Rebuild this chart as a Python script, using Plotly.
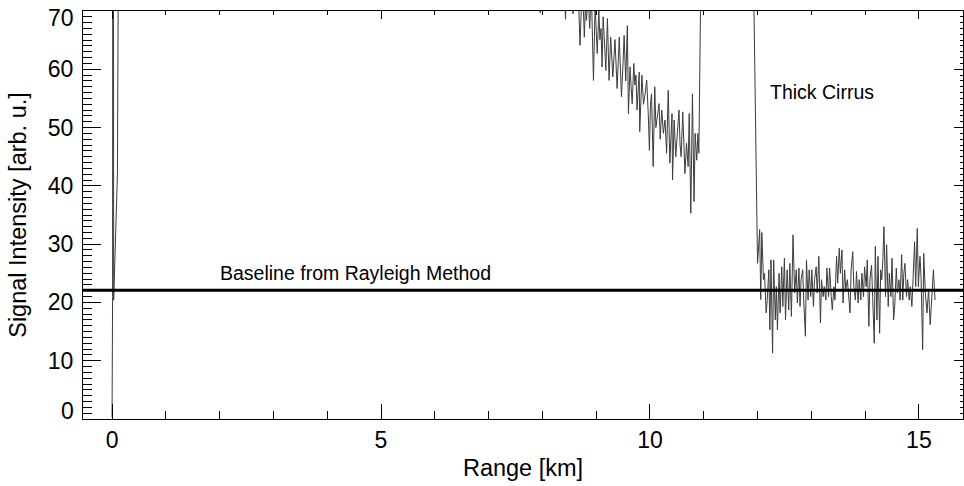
import plotly.graph_objects as go

# ---- data ----
near_range = [0.0, 0.005, 0.01, 0.018, 0.03, 0.10, 0.14]
near_signal = [0.3, 14.0, 21.0, 250.0, 20.4, 42.0, 300.0]

# strong near-field return, far above the plotted range
mid_range = [0.5, 2.0, 4.0, 6.0, 7.5]
mid_signal = [900.0, 400.0, 200.0, 130.0, 95.0]

aerosol_range = [7.94, 7.96, 7.98, 8.20, 8.40, 8.43, 8.46, 8.54, 8.57, 8.60, 8.67, 8.70, 8.73, 8.76,
                 8.78, 8.80, 8.82, 8.85, 8.88, 8.91, 8.95, 8.98, 9.02, 9.05, 9.07, 9.09, 9.11, 9.13,
                 9.16, 9.18, 9.21, 9.24, 9.27, 9.29, 9.31, 9.35, 9.37, 9.39, 9.43, 9.45, 9.47, 9.50,
                 9.52, 9.55, 9.58, 9.60, 9.63, 9.65, 9.67, 9.70, 9.72, 9.74, 9.76, 9.80, 9.81, 9.85,
                 9.88, 9.91, 9.94, 9.97, 9.99, 10.01, 10.03, 10.06, 10.09, 10.11, 10.14, 10.17, 10.19,
                 10.22, 10.25, 10.28, 10.31, 10.34, 10.37, 10.39, 10.41, 10.42, 10.45, 10.48, 10.51,
                 10.54, 10.56, 10.58, 10.61, 10.63, 10.65, 10.68, 10.71, 10.73, 10.76, 10.79, 10.82,
                 10.84, 10.87, 10.89, 10.91]
aerosol_signal = [85.0, 69.7, 84.0, 80.0, 78.0, 68.6, 77.0, 76.0, 69.5, 76.0, 73.0, 64.1, 72.0, 71.0,
                  65.5, 71.0, 68.4, 73.0, 67.0, 74.0, 58.1, 71.0, 62.7, 70.0, 65.1, 67.0, 60.4, 69.0,
                  64.0, 59.8, 68.7, 58.1, 65.5, 61.0, 58.7, 65.1, 60.0, 56.7, 65.5, 60.0, 55.3, 61.0,
                  65.8, 58.0, 67.5, 52.4, 60.4, 57.0, 54.1, 61.0, 57.3, 59.0, 53.0, 59.5, 49.3, 59.0,
                  54.0, 55.8, 58.1, 52.0, 46.1, 54.0, 55.8, 43.3, 57.0, 50.0, 52.4, 54.1, 48.0,
                  53.0, 49.0, 51.3, 45.6, 56.4, 43.9, 50.0, 52.4, 41.0, 51.3, 45.0, 50.1,
                  53.0, 47.0, 45.0, 52.7, 47.0, 42.1, 47.3, 43.3, 52.4, 35.3, 55.8, 37.3,
                  49.0, 44.4, 49.0, 45.6]

# thick cirrus return (off scale)
cirrus_range = [10.945, 11.0, 11.5, 11.92]
cirrus_signal = [75.0, 400.0, 600.0, 80.0]

below_range = [12.00, 12.02, 12.04, 12.06, 12.08, 12.11, 12.13, 12.16, 12.18, 12.21, 12.23, 12.25,
               12.28, 12.30, 12.33, 12.35, 12.37, 12.40, 12.42, 12.45, 12.47, 12.50, 12.52, 12.55,
               12.58, 12.60, 12.63, 12.66, 12.69, 12.72, 12.74, 12.77, 12.79, 12.81, 12.84, 12.86,
               12.89, 12.91, 12.94, 12.96, 12.99, 13.01, 13.04, 13.06, 13.09, 13.11, 13.14, 13.17,
               13.19, 13.22, 13.24, 13.27, 13.29, 13.32, 13.34, 13.37, 13.39, 13.42, 13.44, 13.47,
               13.49, 13.52, 13.54, 13.57, 13.59, 13.62, 13.64, 13.67, 13.69, 13.72, 13.74, 13.77,
               13.79, 13.82, 13.84, 13.87, 13.89, 13.92, 13.94, 13.97, 13.99, 14.02, 14.04, 14.07,
               14.09, 14.12, 14.14, 14.17, 14.19, 14.22, 14.24, 14.27, 14.29, 14.31, 14.33, 14.35,
               14.38, 14.40, 14.43, 14.45, 14.48, 14.50, 14.53, 14.55, 14.58, 14.60, 14.63, 14.65,
               14.68, 14.70, 14.72, 14.74, 14.77, 14.79, 14.82, 14.84, 14.87, 14.89, 14.92, 14.94,
               14.97, 14.99, 15.02, 15.04, 15.07, 15.09, 15.12, 15.15, 15.18, 15.21, 15.24, 15.27,
               15.30]
below_signal = [26.7, 29.5, 32.5, 20.5, 32.0, 23.9, 25.0, 18.2, 20.3, 25.6, 15.3, 27.3,
                11.3, 27.3, 17.0, 22.7, 15.3, 25.0, 18.2, 26.1, 19.3, 27.6, 17.0, 25.6,
                18.7, 26.7, 17.6, 31.6, 21.6, 25.6, 19.9, 25.9, 19.3, 23.9, 25.6, 20.2,
                14.2, 27.3, 20.4, 25.6, 21.0, 25.6, 19.3, 23.9, 26.1, 21.6, 27.9, 16.5,
                23.9, 21.0, 22.7, 20.4, 25.9, 21.0, 25.9, 21.0, 18.7, 22.7, 20.4, 27.9,
                23.3, 29.3, 25.0, 29.0, 19.9, 25.6, 22.2, 23.9, 21.6, 18.2, 25.6, 28.7,
                22.7, 20.4, 25.3, 19.9, 23.9, 20.4, 25.0, 21.0, 26.1, 22.7, 27.3, 15.9,
                23.9, 26.4, 21.0, 13.0, 29.6, 17.0, 27.9, 14.7, 25.6, 23.9, 27.3, 33.0,
                21.0, 29.9, 19.3, 25.0, 21.0, 27.6, 17.0, 19.3, 25.9, 21.6, 23.9, 20.4,
                28.2, 20.4, 25.0, 26.7, 21.0, 23.9, 20.4, 22.7, 19.3, 23.9, 30.4, 22.7,
                32.7, 22.7, 27.9, 24.4, 11.9, 28.4, 21.6, 18.2, 22.1, 16.2, 21.6, 25.6,
                20.4]

baseline_value = 22.1

x_ticks = [0, 5, 10, 15]
y_ticks = [0, 10, 20, 30, 40, 50, 60, 70]
y_tick_text = ["", "10", "20", "30", "40", "50", "60", ""]
x_range = [-0.54, 15.82]
y_range = [0, 70]

range_km = near_range + mid_range + aerosol_range + cirrus_range + below_range
signal = near_signal + mid_signal + aerosol_signal + cirrus_signal + below_signal

FONT = "Liberation Sans, Arial, Helvetica, sans-serif"
TICK_SIZE = 23
TITLE_SIZE = 23.5

fig = go.Figure()
fig.add_trace(go.Scatter(x=range_km, y=signal, mode="lines",
                         line=dict(color="#3c3c3c", width=1), showlegend=False,
                         hoverinfo="skip"))
# baseline across the whole plot width
fig.add_trace(go.Scatter(x=x_range, y=[baseline_value, baseline_value], mode="lines",
                         line=dict(color="black", width=3), showlegend=False,
                         hoverinfo="skip"))
# dummy trace to activate the top/right axes
fig.add_trace(go.Scatter(x=[None], y=[None], xaxis="x2", yaxis="y2", showlegend=False))

axis_common = dict(showgrid=False, zeroline=False, showline=True, linecolor="black",
                   linewidth=1, ticks="inside", tickcolor="black", tickwidth=1)

# edge tick labels (shifted inward, as in the reference)
edge_labels = [
    dict(x=0, y=y_ticks[-1], xref="paper", yref="y", text=str(y_ticks[-1]), showarrow=False,
         xanchor="right", yanchor="middle", xshift=-7, yshift=-7,
         font=dict(family=FONT, size=TICK_SIZE, color="black")),
    dict(x=0, y=y_ticks[0], xref="paper", yref="y", text=str(y_ticks[0]), showarrow=False,
         xanchor="right", yanchor="middle", xshift=-7, yshift=8,
         font=dict(family=FONT, size=TICK_SIZE, color="black")),
]

fig.update_layout(
    width=964, height=486,
    margin=dict(l=83, r=1, t=11, b=67),
    plot_bgcolor="white", paper_bgcolor="white",
    font=dict(family=FONT, color="black", size=TICK_SIZE),
    xaxis=dict(range=x_range, tickvals=x_ticks, ticklen=15,
               tickfont=dict(size=TICK_SIZE),
               minor=dict(dtick=1, ticklen=8, tickcolor="black", ticks="inside"),
               title=dict(text="Range [km]", font=dict(size=TITLE_SIZE), standoff=7),
               **axis_common),
    yaxis=dict(range=y_range, tickvals=y_ticks, ticktext=y_tick_text, ticklen=18,
               tickfont=dict(size=TICK_SIZE), ticklabelstandoff=4,
               minor=dict(dtick=1, ticklen=9, tickcolor="black", ticks="inside"),
               title=dict(text="Signal Intensity [arb. u.]", font=dict(size=TITLE_SIZE),
                          standoff=14),
               **axis_common),
    xaxis2=dict(range=x_range, overlaying="x", side="top", anchor="y", tickvals=x_ticks,
                ticklen=8, showticklabels=False,
                minor=dict(dtick=1, ticklen=4, tickcolor="black", ticks="inside"),
                **axis_common),
    yaxis2=dict(range=y_range, overlaying="y", side="right", anchor="x", tickvals=y_ticks,
                ticklen=9, showticklabels=False,
                minor=dict(dtick=1, ticklen=3, tickcolor="black", ticks="inside"),
                **axis_common),
    annotations=edge_labels + [
        dict(x=1.97, y=25.1, xref="x", yref="y", text="Baseline from Rayleigh Method",
             showarrow=False, xanchor="left", yanchor="middle",
             font=dict(family=FONT, size=19.5, color="black")),
        dict(x=12.19, y=56.1, xref="x", yref="y", text="Thick Cirrus",
             showarrow=False, xanchor="left", yanchor="middle",
             font=dict(family=FONT, size=19.5, color="black")),
    ],
)

fig.write_html("out.html")
